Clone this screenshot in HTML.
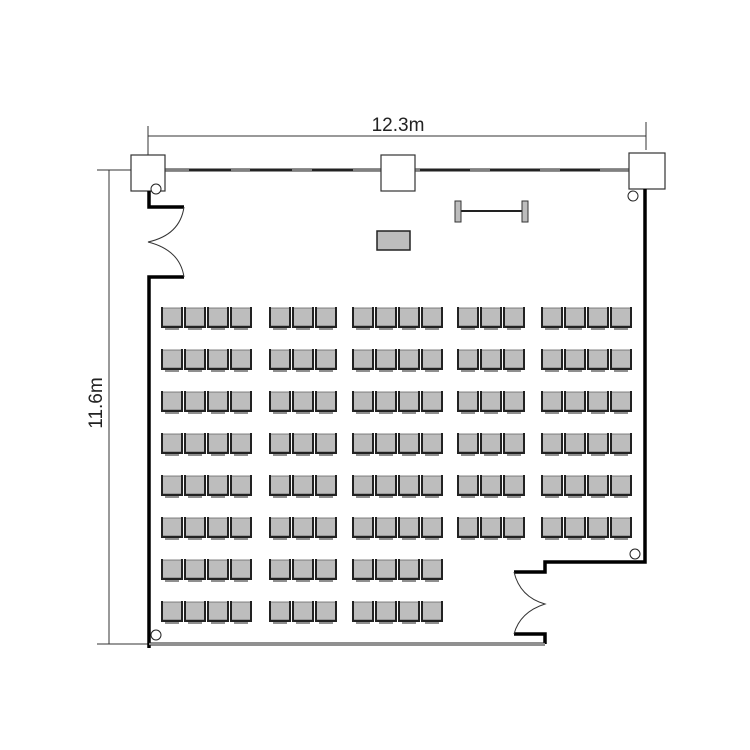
<!DOCTYPE html>
<html><head><style>body{margin:0;background:#fff}svg{display:block}</style></head><body>
<svg width="750" height="750" viewBox="0 0 750 750" xmlns="http://www.w3.org/2000/svg">
<defs>
<g id="ch">
<rect x="1.5" y="1" width="19" height="18" fill="#bdbdbd" stroke="#666" stroke-width="0.8"/>
<path d="M1 0 V20 H21 V0" fill="none" stroke="#222" stroke-width="2"/>
<path d="M4 22 H18" stroke="#444" stroke-width="1.2"/>
</g>
<pattern id="p1" patternUnits="userSpaceOnUse" x="161" y="307" width="23" height="42"><use href="#ch"/></pattern>
<pattern id="p2" patternUnits="userSpaceOnUse" x="269" y="307" width="23" height="42"><use href="#ch"/></pattern>
<pattern id="p3" patternUnits="userSpaceOnUse" x="352" y="307" width="23" height="42"><use href="#ch"/></pattern>
<pattern id="p4" patternUnits="userSpaceOnUse" x="457" y="307" width="23" height="42"><use href="#ch"/></pattern>
<pattern id="p5" patternUnits="userSpaceOnUse" x="541" y="307" width="23" height="42"><use href="#ch"/></pattern>
</defs>

<g stroke="#333" stroke-width="1" fill="none">
<path d="M148 136 H646"/><path d="M148 126 V175"/><path d="M646 122 V150"/>
<path d="M109 170 V644"/><path d="M97 170 H160"/><path d="M97 644 H150"/>
</g>
<text x="398" y="131" font-family="Liberation Sans, sans-serif" font-size="19" text-anchor="middle" fill="#222">12.3m</text>
<text x="0" y="0" transform="translate(102,403) rotate(-90)" font-family="Liberation Sans, sans-serif" font-size="19" text-anchor="middle" fill="#222">11.6m</text>

<path d="M165 170 H630" stroke="#222" stroke-width="3"/>
<path d="M165 170 H630" stroke="#ddd" stroke-width="1"/>
<g stroke="#222" stroke-width="3"><path d="M189 170 H231"/><path d="M250 170 H292"/><path d="M312 170 H353"/><path d="M420 170 H470"/><path d="M490 170 H540"/><path d="M560 170 H600"/></g>

<g fill="#fff" stroke="#333" stroke-width="1.2">
<rect x="131" y="155" width="34" height="36"/>
<rect x="381" y="155" width="34" height="36"/>
<rect x="629" y="153" width="36" height="36"/>
</g>

<g stroke="#000" stroke-width="3.5" fill="none" stroke-linejoin="miter">
<path d="M149 191 V207 H184"/>
<path d="M184 277 H149 V648"/>
<path d="M645 189 V562 H545 V572 H514"/>
<path d="M514 634 H545 V644"/>
</g>
<path d="M149 644 H545" stroke="#222" stroke-width="3"/>
<path d="M149 644 H545" stroke="#fff" stroke-width="1"/>

<g stroke="#333" stroke-width="1" fill="none">
<path d="M184 207 Q180 235 148 242 Q180 250 184 277"/>
<path d="M514 572 Q520 597 545 604 Q520 612 514 634"/>
</g>
<g stroke="#222" stroke-width="1" fill="#fff">
<circle cx="156" cy="189" r="5"/><circle cx="633" cy="196" r="5"/><circle cx="635" cy="554" r="5"/><circle cx="156" cy="635" r="5"/>
</g>

<rect x="377" y="231" width="33" height="19" fill="#bdbdbd" stroke="#222" stroke-width="1.5"/>
<path d="M457 211 H526" stroke="#222" stroke-width="2"/>
<rect x="455" y="201" width="6" height="21" fill="#bdbdbd" stroke="#333"/>
<rect x="522" y="201" width="6" height="21" fill="#bdbdbd" stroke="#333"/>

<rect x="161" y="307" width="92" height="336" fill="url(#p1)"/>
<rect x="269" y="307" width="69" height="336" fill="url(#p2)"/>
<rect x="352" y="307" width="92" height="336" fill="url(#p3)"/>
<rect x="457" y="307" width="69" height="252" fill="url(#p4)"/>
<rect x="541" y="307" width="92" height="252" fill="url(#p5)"/>
</svg>
</body></html>
